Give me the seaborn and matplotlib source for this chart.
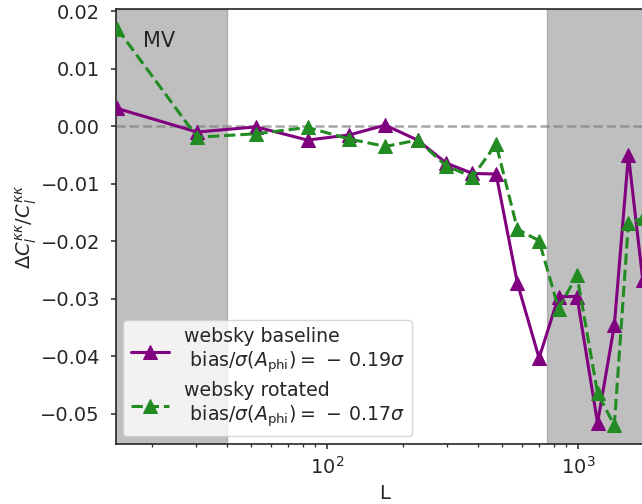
import numpy as np
import pandas as pd
import matplotlib
matplotlib.use("Agg")
import matplotlib.pyplot as plt
import seaborn as sns

# Data
L = [14.6, 30.4, 52.2, 83.7, 122.7, 170.7, 229.6, 298.8, 380, 472,
     574, 700, 837, 991, 1197, 1396, 1589, 1812]
baseline = [0.0031, -0.0010, -0.0001, -0.0024, -0.0015, 0.0002, -0.0024, -0.0064,
            -0.0082, -0.0083, -0.0273, -0.0403, -0.0296, -0.0296, -0.0516, -0.0346,
            -0.0050, -0.0267]
rotated = [0.0170, -0.0019, -0.0013, -0.0002, -0.0022, -0.0035, -0.0024, -0.0069,
           -0.0088, -0.0031, -0.0179, -0.0199, -0.0317, -0.0259, -0.0464, -0.0520,
           -0.0168, -0.0160]
label_base = "websky baseline\n bias/$\\sigma(A_{\\rm phi}) = \\,-\\,0.19\\sigma$"
label_rot = "websky rotated\n bias/$\\sigma(A_{\\rm phi}) = \\,-\\,0.17\\sigma$"
shade_low = (10, 40)
shade_high = (750, 5000)

sns.set_style("ticks")
plt.rcParams['font.family'] = ['DejaVu Sans']
plt.rcParams['mathtext.fontset'] = 'dejavusans'

fig = plt.figure(figsize=(6.42, 5.04), dpi=100)
xmin, xmax = 14.4, 2000
px_per_dec = 251.0
w = (np.log10(xmax) - np.log10(xmin)) * px_per_dec / 642
ax = fig.add_axes([115.7 / 642, 1 - 444 / 504, w, (444 - 8.7) / 504])

ax.axvspan(*shade_low, color='gray', alpha=0.5, zorder=0)
ax.axvspan(*shade_high, color='gray', alpha=0.5, zorder=0)
ax.axhline(0, color='gray', ls='--', lw=1.8, alpha=0.7, zorder=1)

df = pd.DataFrame({"L": L, "base": baseline, "rot": rotated})
sns.lineplot(data=df, x="L", y="base", ax=ax, color='purple', marker='^',
             markersize=10, mec='purple', lw=2.2, label=label_base, sort=False, zorder=3)
sns.lineplot(data=df, x="L", y="rot", ax=ax, color='forestgreen', marker='^',
             markersize=10, mec='forestgreen', lw=2.2, ls='--', label=label_rot,
             sort=False, zorder=3)

ax.set_xscale('log')
ax.set_xlim(xmin, xmax)
ax.set_ylim(-0.05525, 0.02045)
ax.set_yticks([0.02, 0.01, 0.0, -0.01, -0.02, -0.03, -0.04, -0.05])
ax.tick_params(axis='both', which='major', labelsize=14, length=3.8, width=1.1)
ax.tick_params(axis='y', which='major', pad=7.5)
ax.tick_params(axis='x', which='major', pad=5)
ax.tick_params(axis='both', which='minor', length=2.4, width=0.9)
for s in ax.spines.values():
    s.set_linewidth(1.2)

ax.set_xlabel("L", fontsize=14)
ax.set_ylabel("$\\Delta C_l^{\\kappa\\kappa}/C_l^{\\kappa\\kappa}$", fontsize=14, labelpad=1)
ax.text(18.5, 0.0149, "MV", fontsize=15, va='center', ha='left')

leg = ax.legend(loc='lower left', fontsize=13.6, frameon=True, borderaxespad=0.4,
                labelspacing=0.3)
leg.get_frame().set_alpha(0.8)

fig.savefig("out.png", dpi=100)
